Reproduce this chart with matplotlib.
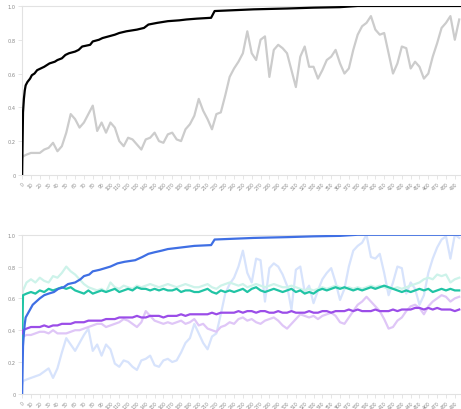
import numpy as np
import matplotlib.pyplot as plt

# sample positions for the noisy series
steps = np.r_[0, 1, np.arange(5, 500, 5)]

# top panel
acc_rate = [0.10, 0.11, 0.12, 0.13, 0.13, 0.13, 0.15, 0.16, 0.19, 0.14, 0.17, 0.25, 0.36, 0.33, 0.28, 0.31,
            0.36, 0.41, 0.26, 0.31, 0.25, 0.31, 0.28, 0.20, 0.17, 0.22, 0.21, 0.18, 0.15, 0.21, 0.22, 0.25,
            0.20, 0.19, 0.24, 0.25, 0.21, 0.20, 0.27, 0.30, 0.35, 0.45, 0.38, 0.33, 0.27, 0.36, 0.37, 0.47,
            0.58, 0.63, 0.67, 0.72, 0.85, 0.72, 0.68, 0.80, 0.82, 0.58, 0.74, 0.77, 0.75, 0.72, 0.62, 0.52,
            0.70, 0.76, 0.64, 0.64, 0.57, 0.62, 0.68, 0.70, 0.74, 0.66, 0.60, 0.63, 0.74, 0.83, 0.88, 0.90,
            0.94, 0.86, 0.83, 0.84, 0.72, 0.60, 0.66, 0.76, 0.75, 0.63, 0.67, 0.64, 0.57, 0.60, 0.70, 0.78,
            0.87, 0.90, 0.94, 0.80, 0.92]

cum_x = [0, 1, 2, 3, 4, 6, 9, 11, 14, 17, 21, 25, 28, 31, 37, 40, 45, 49, 53, 60, 64, 68, 77, 80, 87,
         91, 98, 105, 110, 118, 130, 138, 143, 153, 165, 178, 186, 198, 214, 218, 240, 262, 300, 330,
         360, 380, 497]
cum_y = [0, 0.37, 0.45, 0.50, 0.53, 0.55, 0.57, 0.59, 0.60, 0.62, 0.63, 0.64, 0.65, 0.66, 0.67, 0.68,
         0.69, 0.71, 0.72, 0.73, 0.74, 0.76, 0.77, 0.79, 0.80, 0.81, 0.82, 0.83, 0.84, 0.85, 0.86, 0.87,
         0.89, 0.90, 0.91, 0.915, 0.92, 0.925, 0.93, 0.97, 0.975, 0.98, 0.985, 0.99, 0.993, 1.0, 1.0]

# bottom panel
blue_x = [0, 1, 2, 3, 4, 6, 9, 12, 16, 20, 25, 30, 36, 41, 47, 52, 60, 66, 70, 76, 80, 88, 94, 100,
          108, 116, 128, 136, 143, 150, 158, 165, 180, 195, 214, 218, 240, 262, 300, 330, 360, 380, 497]
blue_y = [0, 0.30, 0.38, 0.44, 0.48, 0.50, 0.53, 0.56, 0.58, 0.60, 0.62, 0.63, 0.64, 0.66, 0.67, 0.69,
          0.70, 0.72, 0.74, 0.75, 0.77, 0.78, 0.79, 0.80, 0.82, 0.83, 0.84, 0.86, 0.88, 0.89, 0.90, 0.91,
          0.92, 0.93, 0.935, 0.97, 0.975, 0.98, 0.985, 0.99, 0.993, 1.0, 1.0]

light_blue = [0.06, 0.08, 0.09, 0.10, 0.11, 0.12, 0.14, 0.16, 0.10, 0.16, 0.26, 0.35, 0.31, 0.27, 0.32,
              0.37, 0.41, 0.27, 0.31, 0.24, 0.31, 0.28, 0.19, 0.17, 0.21, 0.20, 0.17, 0.15, 0.21, 0.22,
              0.24, 0.18, 0.17, 0.21, 0.22, 0.20, 0.21, 0.26, 0.32, 0.35, 0.44, 0.38, 0.32, 0.28, 0.36,
              0.38, 0.50, 0.63, 0.69, 0.73, 0.80, 0.90, 0.76, 0.70, 0.85, 0.84, 0.58, 0.79, 0.82, 0.80,
              0.75, 0.68, 0.53, 0.78, 0.80, 0.64, 0.68, 0.57, 0.65, 0.72, 0.76, 0.79, 0.70, 0.59, 0.66,
              0.80, 0.90, 0.93, 0.95, 1.00, 0.86, 0.85, 0.88, 0.76, 0.62, 0.70, 0.80, 0.79, 0.63, 0.70,
              0.66, 0.56, 0.62, 0.76, 0.85, 0.92, 0.97, 0.99, 0.85, 1.00, 0.98]

teal = [0.30, 0.62, 0.63, 0.64, 0.63, 0.65, 0.64, 0.66, 0.65, 0.66, 0.67, 0.66, 0.67, 0.65, 0.64, 0.63,
        0.65, 0.63, 0.64, 0.65, 0.64, 0.65, 0.66, 0.64, 0.65, 0.66, 0.65, 0.67, 0.66, 0.66, 0.65, 0.66,
        0.65, 0.66, 0.65, 0.65, 0.66, 0.64, 0.65, 0.65, 0.64, 0.64, 0.65, 0.66, 0.64, 0.63, 0.65, 0.64,
        0.65, 0.64, 0.65, 0.66, 0.64, 0.66, 0.67, 0.65, 0.64, 0.65, 0.66, 0.65, 0.64, 0.65, 0.66, 0.64,
        0.65, 0.63, 0.64, 0.63, 0.65, 0.66, 0.65, 0.66, 0.67, 0.66, 0.67, 0.66, 0.65, 0.66, 0.65, 0.66,
        0.67, 0.66, 0.67, 0.68, 0.67, 0.66, 0.65, 0.64, 0.65, 0.64, 0.65, 0.66, 0.65, 0.66, 0.64, 0.65,
        0.66, 0.65, 0.66, 0.65, 0.65]

light_teal = [0.62, 0.65, 0.70, 0.72, 0.70, 0.73, 0.71, 0.70, 0.74, 0.73, 0.76, 0.80, 0.77, 0.75, 0.72,
              0.69, 0.67, 0.66, 0.65, 0.66, 0.64, 0.70, 0.67, 0.66, 0.68, 0.67, 0.66, 0.68, 0.67, 0.68,
              0.69, 0.68, 0.67, 0.68, 0.69, 0.68, 0.67, 0.68, 0.69, 0.68, 0.67, 0.67, 0.68, 0.69, 0.67,
              0.66, 0.68, 0.69, 0.70, 0.69, 0.68, 0.69, 0.67, 0.68, 0.69, 0.68, 0.67, 0.68, 0.69, 0.68,
              0.67, 0.67, 0.68, 0.67, 0.66, 0.65, 0.66, 0.65, 0.66, 0.67, 0.66, 0.67, 0.68, 0.67, 0.66,
              0.67, 0.66, 0.67, 0.66, 0.67, 0.68, 0.67, 0.68, 0.67, 0.66, 0.66, 0.67, 0.66, 0.67, 0.68,
              0.69, 0.70, 0.72, 0.73, 0.72, 0.75, 0.74, 0.75, 0.70, 0.72, 0.73]

purple = [0.38, 0.40, 0.41, 0.42, 0.42, 0.42, 0.43, 0.42, 0.43, 0.43, 0.44, 0.44, 0.44, 0.45, 0.45, 0.45,
          0.46, 0.46, 0.46, 0.46, 0.47, 0.47, 0.47, 0.48, 0.48, 0.48, 0.48, 0.49, 0.48, 0.48, 0.49, 0.49,
          0.49, 0.48, 0.49, 0.49, 0.49, 0.50, 0.49, 0.50, 0.50, 0.50, 0.50, 0.50, 0.51, 0.50, 0.51, 0.51,
          0.51, 0.51, 0.52, 0.51, 0.52, 0.52, 0.51, 0.52, 0.52, 0.51, 0.51, 0.52, 0.51, 0.51, 0.52, 0.51,
          0.51, 0.51, 0.52, 0.51, 0.51, 0.52, 0.52, 0.51, 0.52, 0.52, 0.52, 0.53, 0.52, 0.53, 0.52, 0.52,
          0.52, 0.53, 0.52, 0.52, 0.52, 0.53, 0.52, 0.53, 0.53, 0.53, 0.54, 0.54, 0.53, 0.54, 0.53, 0.54,
          0.53, 0.53, 0.53, 0.52, 0.53]

light_purple = [0.33, 0.36, 0.37, 0.37, 0.38, 0.39, 0.39, 0.38, 0.40, 0.38, 0.38, 0.38, 0.39, 0.40, 0.40,
                0.41, 0.42, 0.43, 0.44, 0.44, 0.42, 0.43, 0.44, 0.45, 0.47, 0.46, 0.44, 0.42, 0.45, 0.52,
                0.49, 0.46, 0.45, 0.44, 0.45, 0.44, 0.45, 0.46, 0.44, 0.45, 0.47, 0.43, 0.44, 0.41, 0.40,
                0.39, 0.42, 0.43, 0.45, 0.44, 0.47, 0.48, 0.46, 0.47, 0.45, 0.44, 0.46, 0.47, 0.48, 0.46,
                0.43, 0.41, 0.44, 0.47, 0.50, 0.49, 0.48, 0.49, 0.47, 0.49, 0.50, 0.51, 0.49, 0.45, 0.44,
                0.48, 0.52, 0.56, 0.58, 0.61, 0.58, 0.55, 0.52, 0.47, 0.41, 0.42, 0.46, 0.48, 0.52, 0.55,
                0.56, 0.54, 0.50, 0.55, 0.58, 0.60, 0.62, 0.61, 0.58, 0.60, 0.61]

x_ticks = np.arange(0, 500, 10)
y_ticks = [0, 0.2, 0.4, 0.6, 0.8, 1.0]
y_labels = ['0', '0.2', '0.4', '0.6', '0.8', '1.0']

fig = plt.figure(figsize=(4.61, 4.10), dpi=100)
ax1 = fig.add_axes([0.048, 0.571, 0.952, 0.412])
ax2 = fig.add_axes([0.048, 0.037, 0.952, 0.388])


def style(ax):
    ax.set_xlim(0, 497)
    ax.set_ylim(0, 1.0)
    ax.set_xticks(x_ticks)
    ax.set_xticklabels([str(t) for t in x_ticks], rotation=45, ha='right',
                       rotation_mode='anchor', fontsize=3.3, color='#888888')
    ax.set_yticks(y_ticks)
    ax.set_yticklabels(y_labels, fontsize=3.6, color='#888888')
    ax.tick_params(length=3, width=0.6, color='#e2e2e2', pad=1.5)
    for s in ['left', 'bottom', 'top']:
        ax.spines[s].set_color('#e2e2e2')
        ax.spines[s].set_linewidth(0.8)
    ax.spines['right'].set_visible(False)


ax1.plot(steps, acc_rate, color='#cccccc', lw=1.6, zorder=2)
ax1.plot(cum_x, cum_y, color='#000000', lw=1.6, zorder=3)
style(ax1)

ax2.plot(steps, light_blue, color='#d7e3fc', lw=1.6, zorder=2)
ax2.plot(steps, light_teal, color='#cdf3ea', lw=1.6, zorder=2)
ax2.plot(steps, light_purple, color='#dfc6f7', lw=1.6, zorder=2)
ax2.plot(steps, teal, color='#21c4a5', lw=1.6, zorder=3)
ax2.plot(steps, purple, color='#9b4de8', lw=1.6, zorder=3)
ax2.plot(blue_x, blue_y, color='#3f6fe4', lw=1.6, zorder=4)
style(ax2)

plt.savefig('out.png', dpi=100)
